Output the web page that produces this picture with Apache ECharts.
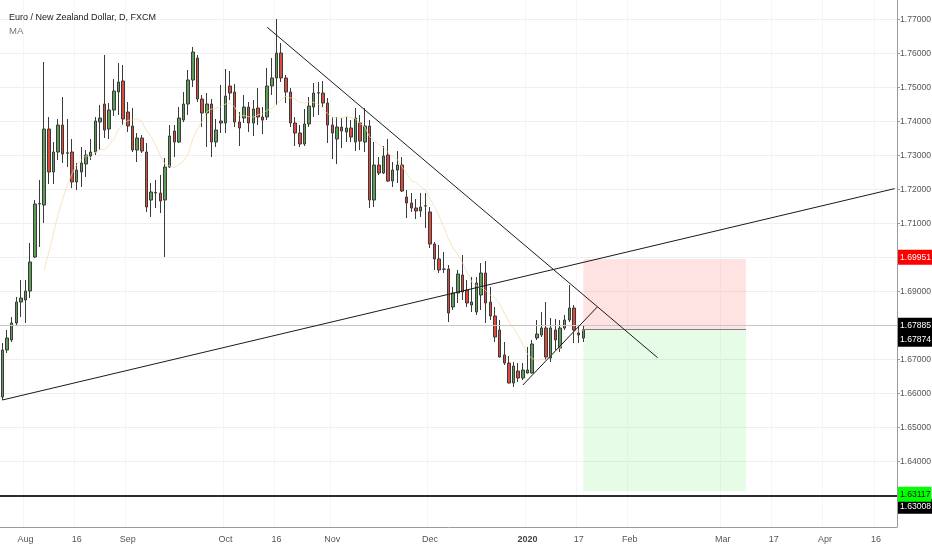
<!DOCTYPE html>
<html>
<head>
<meta charset="utf-8">
<script src="https://cdn.jsdelivr.net/npm/echarts@6/dist/echarts.min.js"></script>
<style>
  html, body { margin: 0; padding: 0; background: #fff; }
  #main { width: 932px; height: 550px; }
</style>
</head>
<body>
<div id="main"></div>
<script>
// EUR/NZD daily candles, 2019-07-25 .. 2020-01-20
const openVals = [
  1.65891, 1.67274, 1.67568, 1.68068, 1.68685, 1.68744, 1.69009, 1.70009, 1.71568, 1.71538,
  1.73773, 1.72509, 1.73097, 1.73891, 1.73060, 1.73097, 1.72215, 1.72509, 1.72744, 1.72979,
  1.73097, 1.73979, 1.74509, 1.73773, 1.74332, 1.74862, 1.75185, 1.74273, 1.73862, 1.73156,
  1.73509, 1.73097, 1.71685, 1.71891, 1.71891, 1.71685, 1.72656, 1.73715, 1.73391, 1.74038,
  1.74509, 1.75215, 1.75861, 1.74656, 1.74244, 1.74509, 1.73391, 1.73950, 1.73950, 1.75038,
  1.74862, 1.73979, 1.74097, 1.74420, 1.73950, 1.74391, 1.74126, 1.74126, 1.75038, 1.75274,
  1.76008, 1.75274, 1.74862, 1.73950, 1.73656, 1.73332, 1.73921, 1.74420, 1.74832, 1.74832,
  1.74538, 1.73891, 1.73479, 1.73832, 1.73685, 1.73803, 1.73391, 1.73950, 1.73391, 1.73862,
  1.71685, 1.72715, 1.72479, 1.73009, 1.72244, 1.72567, 1.72715, 1.71774, 1.71597, 1.71450,
  1.71362, 1.71509, 1.71333, 1.70391, 1.69950, 1.69656, 1.69656, 1.68538, 1.68950, 1.69480,
  1.69038, 1.68597, 1.68391, 1.68891, 1.69538, 1.68685, 1.68274, 1.67862, 1.67127, 1.66891,
  1.66303, 1.66656, 1.66450, 1.66597, 1.66597, 1.67627, 1.67715, 1.67921, 1.67038, 1.67862,
  1.67333, 1.67921, 1.68156, 1.68509, 1.67774, 1.67627
];
const closeVals = [
  1.67274, 1.67627, 1.68068, 1.68685, 1.68803, 1.69009, 1.69862, 1.71568, 1.71580, 1.73773,
  1.72509, 1.73097, 1.73891, 1.73038, 1.73075, 1.72215, 1.72567, 1.72773, 1.73009, 1.73097,
  1.74009, 1.74097, 1.73744, 1.74332, 1.74891, 1.75156, 1.74068, 1.73862, 1.73156, 1.73509,
  1.73126, 1.71480, 1.71921, 1.71905, 1.71656, 1.72656, 1.73568, 1.73391, 1.74097, 1.74509,
  1.75215, 1.76038, 1.74656, 1.74244, 1.74509, 1.73391, 1.73744, 1.74009, 1.74744, 1.74832,
  1.73979, 1.73803, 1.74420, 1.73950, 1.74362, 1.74126, 1.74038, 1.75038, 1.75274, 1.76008,
  1.75274, 1.74862, 1.73950, 1.73656, 1.73332, 1.73921, 1.74450, 1.74832, 1.74840, 1.74538,
  1.73891, 1.73656, 1.73832, 1.73715, 1.73803, 1.73538, 1.74097, 1.73421, 1.73862, 1.71685,
  1.72715, 1.72479, 1.72979, 1.72244, 1.72567, 1.72715, 1.71950, 1.71597, 1.71450, 1.71362,
  1.71480, 1.71515, 1.70391, 1.69950, 1.69627, 1.69650, 1.68362, 1.68950, 1.69509, 1.68980,
  1.68656, 1.68685, 1.69244, 1.69538, 1.68656, 1.68274, 1.67656, 1.67068, 1.66891, 1.66303,
  1.66803, 1.66450, 1.66685, 1.66685, 1.67450, 1.67744, 1.67921, 1.67068, 1.67921, 1.67568,
  1.67921, 1.68156, 1.68509, 1.67862, 1.67715, 1.67874
];
const lowVals = [
  1.65803, 1.67185, 1.67509, 1.67980, 1.68244, 1.68068, 1.68803, 1.69979, 1.70303, 1.71009,
  1.72156, 1.72156, 1.72862, 1.72773, 1.72656, 1.72038, 1.71979, 1.72068, 1.72362, 1.72862,
  1.73009, 1.73156, 1.73509, 1.73479, 1.74156, 1.74185, 1.73891, 1.73685, 1.73097, 1.72803,
  1.73068, 1.71333, 1.71185, 1.71450, 1.71303, 1.70009, 1.72626, 1.72950, 1.73362, 1.73979,
  1.74185, 1.75009, 1.74568, 1.73832, 1.73244, 1.72950, 1.73244, 1.73656, 1.73656, 1.74626,
  1.73832, 1.73274, 1.73950, 1.73685, 1.73568, 1.73891, 1.73626, 1.74038, 1.74773, 1.74479,
  1.75156, 1.74538, 1.73832, 1.73274, 1.73244, 1.73274, 1.73832, 1.74126, 1.74185, 1.74420,
  1.73362, 1.72891, 1.72744, 1.73215, 1.73391, 1.73391, 1.73126, 1.73156, 1.73097, 1.71450,
  1.71480, 1.72421, 1.72450, 1.72215, 1.72068, 1.72185, 1.71921, 1.71156, 1.71333, 1.71127,
  1.71185, 1.70862, 1.70274, 1.69627, 1.69538, 1.69538, 1.68097, 1.68450, 1.68656, 1.68744,
  1.68538, 1.68391, 1.68303, 1.68450, 1.68068, 1.68156, 1.67509, 1.67050, 1.66833, 1.66290,
  1.66185, 1.66332, 1.66391, 1.66580, 1.66580, 1.67568, 1.67656, 1.66980, 1.66921, 1.67274,
  1.67215, 1.67862, 1.68097, 1.67480, 1.67480, 1.67509
];
const highVals = [
  1.67480, 1.67862, 1.68244, 1.68833, 1.69332, 1.69332, 1.70421, 1.71685, 1.72274, 1.75744,
  1.74126, 1.73391, 1.74068, 1.74715, 1.74068, 1.73479, 1.72773, 1.73244, 1.73156, 1.73479,
  1.74126, 1.74479, 1.75950, 1.74538, 1.75244, 1.75714, 1.75656, 1.74568, 1.74391, 1.73656,
  1.73597, 1.73362, 1.72185, 1.72274, 1.72421, 1.72921, 1.73891, 1.73891, 1.74420, 1.74862,
  1.75509, 1.76185, 1.75950, 1.74773, 1.74832, 1.74656, 1.74068, 1.75068, 1.75538, 1.75479,
  1.75097, 1.74273, 1.74773, 1.74568, 1.74626, 1.74979, 1.74420, 1.75568, 1.75861, 1.77009,
  1.76303, 1.75362, 1.74979, 1.74126, 1.73891, 1.74362, 1.74715, 1.75126, 1.75156, 1.75185,
  1.74685, 1.74126, 1.74126, 1.74097, 1.74126, 1.74038, 1.74391, 1.74185, 1.74391, 1.74038,
  1.73391, 1.72950, 1.73274, 1.73479, 1.72803, 1.73126, 1.72950, 1.71979, 1.71891, 1.71715,
  1.71891, 1.71891, 1.71480, 1.70450, 1.70362, 1.70156, 1.69774, 1.69127, 1.69627, 1.70068,
  1.69332, 1.69421, 1.69421, 1.69832, 1.69891, 1.69127, 1.68538, 1.68156, 1.67509, 1.67097,
  1.66921, 1.66891, 1.66891, 1.67362, 1.67568, 1.68156, 1.68391, 1.68685, 1.68215, 1.68185,
  1.68156, 1.68303, 1.69185, 1.68597, 1.68009, 1.68009
];

// x axis labels (date -> text)
const tickDates = ['2019-08-01', '2019-08-16', '2019-09-02', '2019-10-01', '2019-10-16', '2019-11-01', '2019-12-02',
  '2020-01-02', '2020-01-17', '2020-02-03', '2020-03-02', '2020-03-17', '2020-04-01', '2020-04-16'];
const tickNames = ['Aug', '16', 'Sep', 'Oct', '16', 'Nov', 'Dec', '2020', '17', 'Feb', 'Mar', '17', 'Apr', '16'];

// price axis
const priceTicks = [1.63, 1.64, 1.65, 1.66, 1.67, 1.68, 1.69, 1.70, 1.71, 1.72, 1.73, 1.74, 1.75, 1.76, 1.77];
const priceLabels = [1.64, 1.65, 1.66, 1.67, 1.69, 1.71, 1.72, 1.73, 1.74, 1.75, 1.76, 1.77];

// levels drawn on the chart
const entryPrice = 1.67885;
const lastPrice = 1.67874;
const stopPrice = 1.69951;
const targetPrice = 1.63117;
const supportPrice = 1.63008;
const boxStart = '2020-01-20';
const boxEnd = '2020-03-09';

// trend lines [date, price] pairs
const trendLines = [
  [['2019-07-25', 1.65803], ['2020-04-22', 1.72021]],
  [['2019-10-14', 1.76765], ['2020-02-11', 1.67047]],
  [['2019-12-31', 1.66244], ['2020-01-23', 1.68538]]
];

const maPeriod = 10;

// trading days (weekdays, no Dec 25 / Jan 1)
const dates = [];
(function () {
  let t = Date.UTC(2019, 6, 25);
  const end = Date.UTC(2020, 3, 22);
  while (t <= end) {
    const d = new Date(t);
    const wd = d.getUTCDay();
    const s = d.toISOString().slice(0, 10);
    if (wd !== 0 && wd !== 6 && s !== '2019-12-25' && s !== '2020-01-01') {
      dates.push(s);
    }
    t += 86400000;
  }
})();

const candles = openVals.map((o, i) => [o, closeVals[i], lowVals[i], highVals[i]]);

const maVals = closeVals.map((c, i) => {
  if (i < maPeriod - 1) return '-';
  let s = 0;
  for (let k = i - maPeriod + 1; k <= i; k++) s += closeVals[k];
  return +(s / maPeriod).toFixed(5);
});

const isTick = (idx, val) => tickDates.indexOf(val) >= 0;
const FONT = "'Liberation Sans', Arial, sans-serif";
const PRICE_FONT_SIZE = 8.6;

// price tag on the right axis
function priceTag(value, bg, fg, offsetY, line) {
  return {
    yAxis: value,
    lineStyle: line || { color: 'rgba(0,0,0,0)', width: 0 },
    label: {
      show: true,
      position: 'end',
      distance: 1,
      offset: [0, offsetY],
      formatter: value.toFixed(5),
      backgroundColor: bg,
      color: fg,
      fontSize: PRICE_FONT_SIZE,
      fontFamily: FONT,
      padding: [3, 1, 3, 2]
    }
  };
}

const chart = echarts.init(document.getElementById('main'), null, { renderer: 'canvas' });

chart.setOption({
  animation: false,
  backgroundColor: '#ffffff',
  textStyle: { fontFamily: FONT },
  title: {
    text: 'Euro / New Zealand Dollar, D, FXCM',
    subtext: 'MA',
    left: 4,
    top: 8,
    itemGap: 4,
    textStyle: { fontSize: 9, color: '#222', fontWeight: 'normal', fontFamily: FONT },
    subtextStyle: { fontSize: 9.5, color: '#777', fontFamily: FONT }
  },
  grid: { left: 0, right: 35, top: 0, bottom: 23, outerBoundsMode: 'none', containLabel: false },
  xAxis: {
    type: 'category',
    data: dates,
    boundaryGap: true,
    axisLine: { lineStyle: { color: '#9a9a9a' } },
    axisTick: { interval: isTick, length: 3, lineStyle: { color: '#9a9a9a' } },
    axisLabel: {
      interval: isTick,
      margin: 8,
      fontSize: 9,
      color: '#555',
      formatter: function (v) {
        const n = tickNames[tickDates.indexOf(v)];
        return n === '2020' ? '{b|2020}' : n;
      },
      rich: { b: { fontWeight: 'bold', fontSize: 9, color: '#444' } }
    },
    splitLine: { show: true, interval: isTick, lineStyle: { color: '#f6f6f6' } }
  },
  yAxis: {
    type: 'value',
    position: 'right',
    scale: true,
    min: 1.62068,
    max: 1.77568,
    axisLine: { show: true, lineStyle: { color: '#9a9a9a' } },
    axisTick: { show: true, length: 3, customValues: priceTicks, lineStyle: { color: '#9a9a9a' } },
    axisLabel: {
      customValues: priceLabels,
      margin: 3,
      fontSize: PRICE_FONT_SIZE,
      color: '#555',
      formatter: v => v.toFixed(5)
    },
    splitLine: { show: true, lineStyle: { color: '#efefef' } }
  },
  series: [
    {
      name: 'EURNZD',
      type: 'candlestick',
      data: candles,
      barWidth: 3,
      itemStyle: {
        color: '#5a9e56',
        color0: '#e0483c',
        borderColor: '#3a3a3a',
        borderColor0: '#3a3a3a',
        borderWidth: 1
      },
      markArea: {
        silent: true,
        data: [
          [{ xAxis: boxStart, yAxis: entryPrice, itemStyle: { color: 'rgba(255, 60, 60, 0.14)' } }, { xAxis: boxEnd, yAxis: stopPrice }],
          [{ xAxis: boxStart, yAxis: targetPrice, itemStyle: { color: 'rgba(40, 230, 40, 0.11)' } }, { xAxis: boxEnd, yAxis: entryPrice }]
        ]
      },
      markLine: {
        silent: true,
        symbol: ['none', 'none'],
        label: { show: true },
        labelLayout: { hideOverlap: false },
        data: [
          priceTag(entryPrice, '#000', '#fff', 0, { color: '#c6c6c6', width: 1, type: 'solid' }),
          priceTag(lastPrice, '#000', '#fff', 14),
          priceTag(supportPrice, '#000', '#fff', 11, { color: '#2b2b2b', width: 2, type: 'solid' }),
          priceTag(stopPrice, '#ff0000', '#fff', 0),
          priceTag(targetPrice, '#00ff00', '#111', -1),
          [
            { coord: [boxStart, entryPrice], lineStyle: { color: '#7c7f86', width: 1, type: 'solid' }, label: { show: false } },
            { coord: [boxEnd, entryPrice] }
          ]
        ].concat(trendLines.map(l => [
          { coord: l[0], lineStyle: { color: '#1a1a1a', width: 1, type: 'solid' }, label: { show: false } },
          { coord: l[1] }
        ]))
      }
    },
    {
      name: 'MA',
      type: 'line',
      data: maVals,
      showSymbol: false,
      smooth: false,
      lineStyle: { color: '#f4d9a6', width: 1, opacity: 0.7 },
      silent: true
    }
  ]
});
</script>
</body>
</html>
